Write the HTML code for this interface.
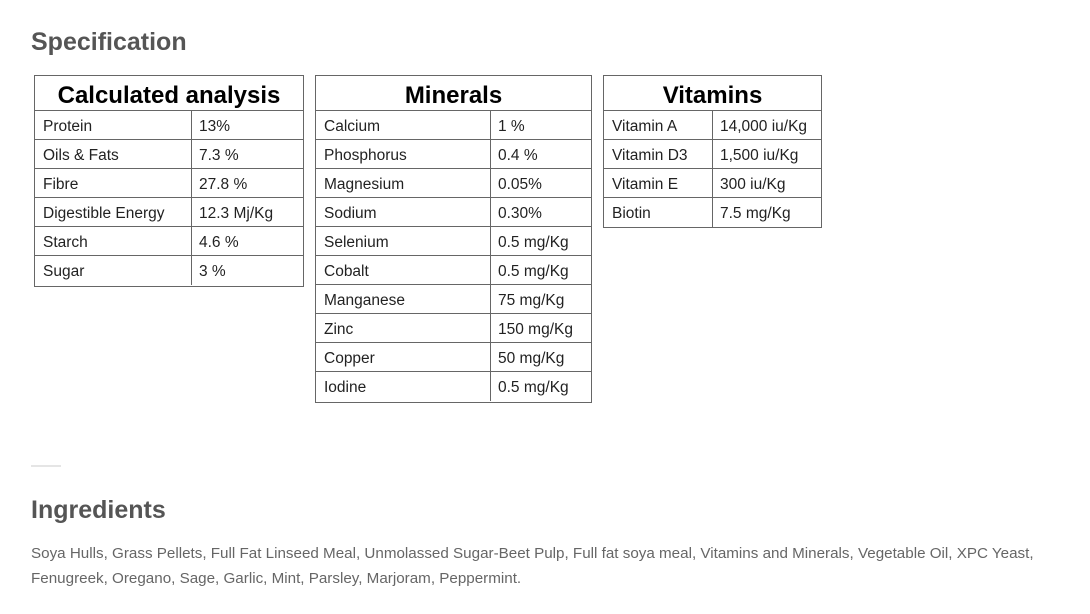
<!DOCTYPE html>
<html><head><meta charset="utf-8"><style>
body{margin:0;width:1090px;height:614px;background:#fff;position:relative;font-family:"Liberation Sans",sans-serif;overflow:hidden}
.h{position:absolute;left:31px;font-family:"Liberation Sans",sans-serif;font-weight:bold;color:#555;font-size:25px}
.t{position:absolute;border:1px solid #666;box-sizing:border-box}
.t .hd{height:35px;line-height:40px;text-align:center;font-weight:bold;font-size:24px;color:#000;border-bottom:1px solid #666;box-sizing:border-box}
.t .r{height:29px;border-bottom:1px solid #666;box-sizing:border-box;position:relative;font-size:15.5px;color:#222;line-height:31px}
.t .r:last-child{border-bottom:none}
.t .r span{position:absolute;left:8px}
.t .r b{font-weight:normal;position:absolute;top:0;bottom:0;border-left:1px solid #666;padding-left:7px}
p{position:absolute;left:31px;top:541px;margin:0;font-family:"Liberation Sans",sans-serif;font-size:15.2px;line-height:25px;color:#666;width:1045px}
</style></head><body>
<div class="h" style="top:28px">Specification</div>
<div class="t" style="left:34px;top:75px;width:270px;height:212px">
<div class="hd">Calculated analysis</div>
<div class="r"><span>Protein</span><b style="left:156px">13%</b></div>
<div class="r"><span>Oils &amp; Fats</span><b style="left:156px">7.3 %</b></div>
<div class="r"><span>Fibre</span><b style="left:156px">27.8 %</b></div>
<div class="r"><span>Digestible Energy</span><b style="left:156px">12.3 Mj/Kg</b></div>
<div class="r"><span>Starch</span><b style="left:156px">4.6 %</b></div>
<div class="r"><span>Sugar</span><b style="left:156px">3 %</b></div>
</div>
<div class="t" style="left:315px;top:75px;width:277px;height:328px">
<div class="hd">Minerals</div>
<div class="r"><span>Calcium</span><b style="left:174px">1 %</b></div>
<div class="r"><span>Phosphorus</span><b style="left:174px">0.4 %</b></div>
<div class="r"><span>Magnesium</span><b style="left:174px">0.05%</b></div>
<div class="r"><span>Sodium</span><b style="left:174px">0.30%</b></div>
<div class="r"><span>Selenium</span><b style="left:174px">0.5 mg/Kg</b></div>
<div class="r"><span>Cobalt</span><b style="left:174px">0.5 mg/Kg</b></div>
<div class="r"><span>Manganese</span><b style="left:174px">75 mg/Kg</b></div>
<div class="r"><span>Zinc</span><b style="left:174px">150 mg/Kg</b></div>
<div class="r"><span>Copper</span><b style="left:174px">50 mg/Kg</b></div>
<div class="r"><span>Iodine</span><b style="left:174px">0.5 mg/Kg</b></div>
</div>
<div class="t" style="left:603px;top:75px;width:219px;height:153px">
<div class="hd">Vitamins</div>
<div class="r"><span>Vitamin A</span><b style="left:108px">14,000 iu/Kg</b></div>
<div class="r"><span>Vitamin D3</span><b style="left:108px">1,500 iu/Kg</b></div>
<div class="r"><span>Vitamin E</span><b style="left:108px">300 iu/Kg</b></div>
<div class="r"><span>Biotin</span><b style="left:108px">7.5 mg/Kg</b></div>
</div>
<div style="position:absolute;left:31px;top:465px;width:30px;height:2px;background:#e5e5e5"></div>
<div class="h" style="top:496px">Ingredients</div>
<p>Soya Hulls, Grass Pellets, Full Fat Linseed Meal, Unmolassed Sugar-Beet Pulp, Full fat soya meal, Vitamins and Minerals, Vegetable Oil, XPC Yeast, Fenugreek, Oregano, Sage, Garlic, Mint, Parsley, Marjoram, Peppermint.</p>
</body></html>
